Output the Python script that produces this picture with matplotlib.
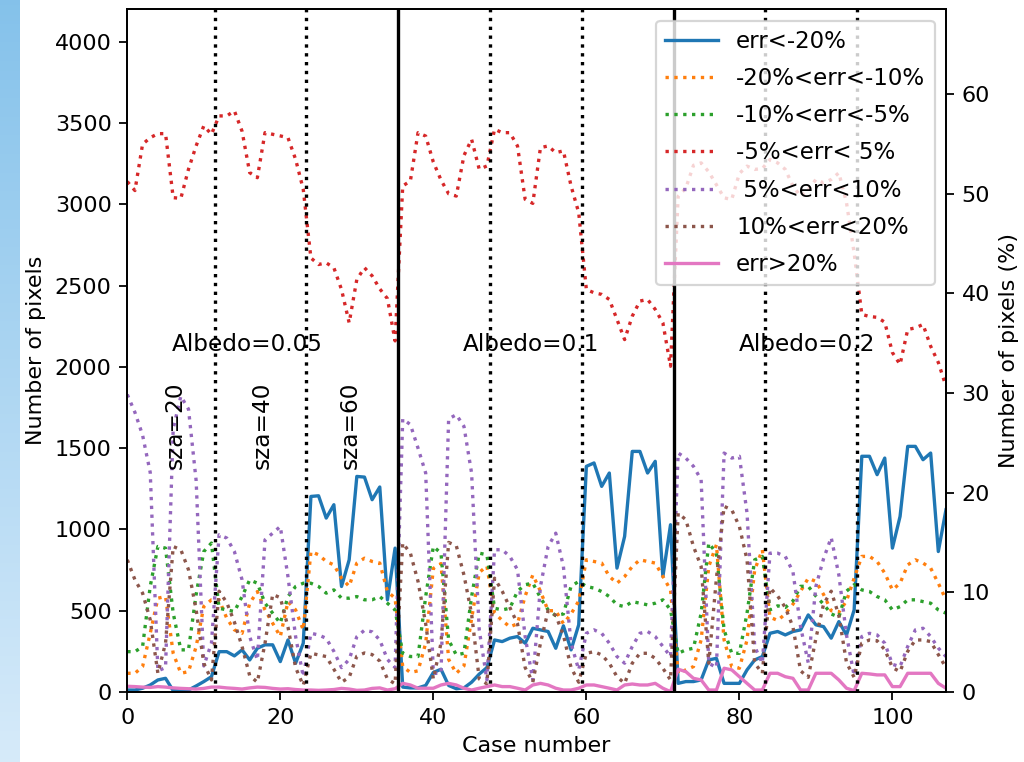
import numpy as np
import matplotlib
matplotlib.use("Agg")
import matplotlib.pyplot as plt

# ==============================
# data, 108 cases = 3 albedo x 3 sza x 12
# ==============================
case_number = np.arange(108)

err_lt_m20 = [12, 12, 23, 43, 74, 84, 8, 8, 12, 37, 64, 94,
              248, 248, 222, 259, 197, 269, 290, 290, 187, 320, 177, 300,
              1203, 1207, 1070, 1152, 649, 813, 1326, 1322, 1183, 1261, 567, 885,
              30, 25, 25, 40, 120, 140, 40, 20, 25, 60, 110, 150,
              320, 310, 331, 341, 300, 392, 382, 372, 269, 407, 259, 413,
              1388, 1409, 1265, 1347, 762, 957, 1480, 1480, 1347, 1419, 710, 1029,
              53, 64, 64, 74, 197, 207, 53, 53, 53, 136, 197, 218,
              361, 372, 351, 372, 382, 474, 413, 402, 331, 433, 351, 505,
              1450, 1450, 1337, 1439, 885, 1080, 1511, 1511, 1429, 1470, 864, 1121]

err_m20_m10 = [115, 115, 156, 361, 577, 587, 238, 115, 125, 279, 526, 567,
               567, 454, 382, 361, 546, 618, 505, 423, 341, 556, 505, 382,
               864, 844, 803, 782, 700, 650, 793, 823, 803, 793, 618, 577,
               156, 120, 130, 300, 760, 790, 200, 115, 160, 450, 735, 775,
               485, 440, 400, 420, 590, 720, 620, 500, 500, 420, 480, 560,
               813, 803, 793, 711, 669, 710, 772, 813, 803, 793, 711, 628,
               115, 136, 156, 320, 772, 906, 320, 156, 146, 320, 751, 875,
               460, 440, 480, 540, 620, 700, 680, 600, 500, 490, 560, 700,
               834, 834, 803, 731, 628, 669, 782, 813, 793, 762, 669, 567]

err_m10_m5 = [248, 248, 279, 650, 895, 885, 485, 259, 259, 600, 864, 916,
              515, 505, 495, 587, 690, 669, 546, 485, 423, 587, 649, 669,
              669, 649, 608, 628, 577, 577, 587, 567, 567, 587, 546, 505,
              238, 218, 218, 587, 895, 854, 320, 228, 238, 587, 854, 844,
              515, 505, 515, 620, 660, 670, 580, 505, 470, 480, 650, 680,
              649, 639, 618, 587, 536, 525, 556, 546, 536, 546, 567, 505,
              238, 259, 269, 485, 916, 854, 382, 238, 238, 485, 813, 834,
              505, 530, 520, 560, 650, 650, 590, 540, 480, 460, 620, 660,
              628, 618, 587, 567, 505, 525, 567, 567, 556, 546, 505, 485]

err_m5_p5 = [3140, 3085, 3370, 3410, 3435, 3435, 3041, 3037, 3216, 3360, 3483, 3431,
             3544, 3544, 3575, 3450, 3195, 3164, 3441, 3431, 3421, 3410, 3277, 3092,
             2670, 2630, 2640, 2610, 2476, 2271, 2538, 2610, 2560, 2480, 2420, 2160,
             3113, 3144, 3441, 3420, 3260, 3150, 3065, 3051, 3300, 3400, 3216, 3236,
             3462, 3441, 3441, 3359, 3031, 3006, 3349, 3359, 3318, 3329, 3113, 2949,
             2476, 2456, 2446, 2415, 2292, 2168, 2312, 2405, 2415, 2354, 2271, 2004,
             3050, 3100, 3240, 3255, 3200, 3120, 3040, 3030, 3190, 3235, 3215, 3220,
             3276, 3255, 3215, 3112, 3050, 3091, 3153, 3132, 3153, 3194, 3010, 2700,
             2323, 2310, 2305, 2275, 2088, 2015, 2230, 2240, 2261, 2127, 2027, 1881]

err_p5_p10 = [1830, 1720, 1580, 1350, 130, 150, 1620, 1820, 1740, 1300, 160, 300,
              967, 947, 864, 690, 341, 197, 936, 977, 1018, 710, 341, 94,
              361, 351, 330, 250, 150, 200, 340, 380, 370, 320, 200, 150,
              1680, 1645, 1500, 1347, 115, 115, 1680, 1706, 1634, 1347, 382, 74,
              875, 875, 834, 752, 341, 74, 649, 895, 977, 772, 300, 136,
              361, 382, 361, 300, 218, 177, 280, 361, 372, 341, 280, 218,
              1470, 1439, 1388, 1306, 177, 150, 1470, 1439, 1450, 1100, 279, 177,
              854, 854, 834, 740, 400, 180, 650, 820, 950, 720, 350, 100,
              341, 361, 351, 300, 170, 156, 280, 382, 392, 341, 270, 218]

err_p10_p20 = [813, 690, 608, 444, 115, 300, 895, 875, 752, 505, 177, 74,
               620, 550, 430, 280, 100, 60, 300, 600, 580, 400, 150, 40,
               238, 228, 218, 140, 60, 90, 220, 240, 230, 190, 80, 50,
               916, 854, 680, 420, 80, 300, 920, 900, 720, 480, 80, 50,
               700, 620, 520, 420, 150, 60, 300, 500, 470, 350, 150, 60,
               238, 248, 228, 177, 94, 53, 177, 238, 238, 207, 146, 74,
               1100, 1060, 895, 772, 177, 700, 1142, 1121, 1018, 813, 177, 115,
               640, 590, 520, 400, 130, 90, 330, 540, 620, 470, 180, 90,
               300, 320, 315, 260, 150, 125, 250, 320, 320, 310, 230, 150]

err_gt_p20 = [35, 33, 30, 28, 33, 30, 25, 22, 20, 18, 22, 30,
              30, 25, 22, 18, 25, 30, 28, 22, 18, 20, 15, 12,
              12, 10, 12, 15, 22, 18, 10, 12, 22, 25, 12, 20,
              53, 43, 23, 23, 23, 43, 53, 43, 23, 12, 23, 33,
              43, 33, 33, 23, 12, 43, 53, 43, 23, 12, 12, 23,
              43, 43, 33, 23, 12, 43, 49, 43, 43, 53, 23, 2,
              140, 125, 84, 74, 12, 12, 146, 136, 94, 53, 12, 12,
              115, 115, 94, 84, 12, 12, 115, 115, 115, 74, 23, 8,
              115, 111, 105, 105, 33, 33, 115, 115, 115, 115, 53, 23]

labels = ["err<-20%", "-20%<err<-10%", "-10%<err<-5%", "-5%<err< 5%",
          " 5%<err<10%", "10%<err<20%", "err>20%"]

total_pixels = 6132
albedo_labels = ["Albedo=0.05", "Albedo=0.1", "Albedo=0.2"]
sza_labels = ["sza=20", "sza=40", "sza=60"]

# ==============================
# figure
# ==============================
fig = plt.figure(figsize=(6.4, 4.7625), dpi=160)

# blue strip on the left edge of the screenshot
strip = fig.add_axes([0, 0, 0.019, 1])
grad = np.linspace(0, 1, 256).reshape(-1, 1)
top_c = np.array([0.52, 0.76, 0.92])
bot_c = np.array([0.84, 0.92, 0.98])
strip.imshow(top_c + grad[:, :, None] * (bot_c - top_c), aspect="auto")
strip.axis("off")

ax = fig.add_axes([0.1243, 0.0919, 0.7995, 0.8959])

series = [err_lt_m20, err_m20_m10, err_m10_m5, err_m5_p5,
          err_p5_p10, err_p10_p20, err_gt_p20]
styles = ["-", ":", ":", ":", ":", ":", "-"]
for i, (vals, ls, lab) in enumerate(zip(series, styles, labels)):
    ax.plot(case_number, vals, linestyle=ls, color=f"C{i}", label=lab)

# block separators
for j in range(1, 9):
    xv = 11.4 + 12 * (j - 1)
    if j % 3 == 0:
        ax.axvline(xv, color="k", linestyle="-", linewidth=1.5)
    else:
        ax.axvline(xv, color="k", linestyle=":", linewidth=1.5)

for i, lab in enumerate(albedo_labels):
    ax.text([5.8, 43.9, 79.9][i], 2100, lab, fontsize=10.4)
for i, lab in enumerate(sza_labels):
    ax.text([6.2, 17.6, 29.1][i], 1370, lab, rotation=90,
            ha="center", va="bottom", fontsize=10.4)

ax.set_xlim(0, 107)
ax.set_ylim(0, 4200)
ax.set_xlabel("Case number")
ax.set_ylabel("Number of pixels")
ax.legend(loc="upper right", fontsize=10.3, labelspacing=0.62, handlelength=2.3)

ax2 = ax.twinx()
ax2.set_ylim(0, 4200 / total_pixels * 100)
ax2.set_ylabel("Number of pixels (%)")

fig.savefig("out.png", dpi=160)
